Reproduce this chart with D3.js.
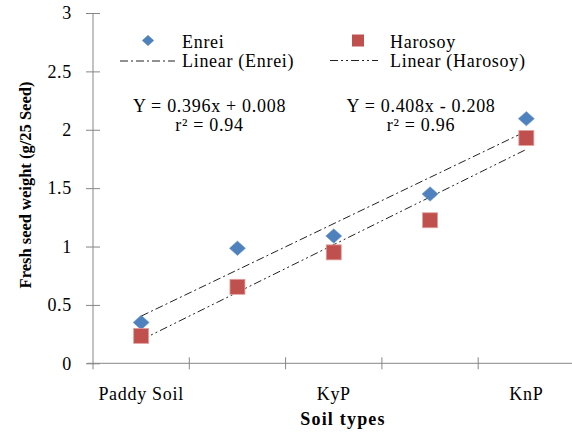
<!DOCTYPE html>
<html>
<head>
<meta charset="utf-8">
<script src="https://cdn.jsdelivr.net/npm/d3@7"></script>
<style>
  html, body { margin: 0; padding: 0; background: #fff; }
  svg { display: block; font-family: "Liberation Serif", "Times New Roman", serif; }
  .serif { letter-spacing: 0.7px; }
</style>
</head>
<body>
<script>
// soil type slots, as Excel numbers them (1..5); only every other label is shown
const soilIndex = [1, 2, 3, 4, 5];
const soilLabels = ["Paddy Soil", "", "KyP", "", "KnP"];

const enrei = [0.35, 0.985, 1.09, 1.45, 2.095];
const harosoy = [0.235, 0.655, 0.95, 1.225, 1.93];

// linear trend lines, as given on the chart
const trendSlope = [0.396, 0.408];
const trendIntercept = [0.008, -0.208];
const trendText = ["Y = 0.396x + 0.008", "Y = 0.408x - 0.208"];
const r2Text = ["r\u00b2 = 0.94", "r\u00b2 = 0.96"];

const yTicks = [0, 0.5, 1, 1.5, 2, 2.5, 3];

const width = 572, height = 433;
const margin = { left: 93, top: 13, bottom: 70 };
const axisColor = "#868686";
const blue = "#4F81BD", red = "#C0504D";

const svg = d3.select("body").append("svg")
  .attr("width", width)
  .attr("height", height);

const x = d3.scaleBand()
  .domain(soilIndex)
  .range([margin.left, 574.5]);

const y = d3.scaleLinear()
  .domain([0, 3])
  .range([363.3, margin.top]);

const cx = (i) => x(soilIndex[i]) + x.bandwidth() / 2;

// y axis
const yAxis = svg.append("g")
  .attr("transform", "translate(" + margin.left + ",0)")
  .call(d3.axisLeft(y).tickValues(yTicks).tickSize(7).tickPadding(14)
    .tickFormat((d) => d3.format("")(d)));
yAxis.select(".domain").remove();
yAxis.selectAll(".tick line").attr("x1", -7).attr("x2", 7).attr("stroke", axisColor);
yAxis.selectAll(".tick text")
  .attr("class", "serif")
  .attr("font-size", 18)
  .attr("fill", "#000")
  .attr("font-family", "Liberation Serif");
yAxis.append("line")
  .attr("x1", 0).attr("x2", 0)
  .attr("y1", y(3)).attr("y2", y(0) + 6)
  .attr("stroke", axisColor);

// x axis
const xAxis = svg.append("g")
  .attr("transform", "translate(0," + y(0) + ")")
  .call(d3.axisBottom(x).tickSize(0).tickPadding(24)
    .tickFormat((d, i) => soilLabels[i]));
xAxis.select(".domain").remove();
xAxis.selectAll(".tick text")
  .attr("class", "serif")
  .attr("font-size", 18)
  .attr("fill", "#000")
  .attr("font-family", "Liberation Serif");
xAxis.append("line")
  .attr("x1", margin.left - 6).attr("x2", width)
  .attr("y1", 0).attr("y2", 0)
  .attr("stroke", axisColor);
xAxis.selectAll(".bound")
  .data(soilIndex.slice(1))
  .enter().append("line")
  .attr("class", "bound")
  .attr("x1", (d) => x(d)).attr("x2", (d) => x(d))
  .attr("y1", -6).attr("y2", 6)
  .attr("stroke", axisColor);

// trend lines
const dashes = ["8,3,2,3", "8,3,2,3,2,3"];
trendSlope.forEach((m, k) => {
  const first = soilIndex[0], last = soilIndex[soilIndex.length - 1];
  svg.append("line")
    .attr("x1", cx(0)).attr("y1", y(m * first + trendIntercept[k]))
    .attr("x2", cx(soilIndex.length - 1)).attr("y2", y(m * last + trendIntercept[k]))
    .attr("stroke", "#222")
    .attr("stroke-width", 1)
    .attr("stroke-dasharray", dashes[k]);
});

// markers
const diamond = (s) => "M0," + (-s * 0.45) + "L" + (s / 2) + ",0L0," + (s * 0.45) + "L" + (-s / 2) + ",0Z";

svg.selectAll(".enrei")
  .data(enrei)
  .enter().append("path")
  .attr("class", "enrei")
  .attr("d", diamond(16))
  .attr("transform", (d, i) => "translate(" + cx(i) + "," + y(d) + ")")
  .attr("fill", blue)
  .attr("stroke", "#6E9AD0")
  .attr("stroke-width", 0.6);

svg.selectAll(".harosoy")
  .data(harosoy)
  .enter().append("rect")
  .attr("class", "harosoy")
  .attr("x", (d, i) => cx(i) - 7.5)
  .attr("y", (d) => y(d) - 7.5)
  .attr("width", 15).attr("height", 15)
  .attr("fill", red)
  .attr("stroke", "#E2A09E")
  .attr("stroke-width", 0.8);

// legend
const legend = svg.append("g");
legend.append("path")
  .attr("d", diamond(12))
  .attr("transform", "translate(148,40.5)")
  .attr("fill", blue);
legend.append("rect")
  .attr("x", 352).attr("y", 34.5).attr("width", 12).attr("height", 12)
  .attr("fill", red);
legend.append("line")
  .attr("x1", 120).attr("x2", 175).attr("y1", 61).attr("y2", 61)
  .attr("stroke", "#222").attr("stroke-dasharray", dashes[0]);
legend.append("line")
  .attr("x1", 330).attr("x2", 378).attr("y1", 60.5).attr("y2", 60.5)
  .attr("stroke", "#222").attr("stroke-dasharray", dashes[1]);

const legendText = [
  { t: "Enrei", x: 182, y: 47.5 },
  { t: "Linear (Enrei)", x: 182, y: 67 },
  { t: "Harosoy", x: 390, y: 47.5 },
  { t: "Linear (Harosoy)", x: 390, y: 67 }
];
legend.selectAll("text")
  .data(legendText)
  .enter().append("text")
  .attr("class", "serif")
  .attr("x", (d) => d.x).attr("y", (d) => d.y)
  .attr("font-size", 18)
  .text((d) => d.t);

// equations
const eqX = [209.5, 421];
trendText.forEach((t, k) => {
  svg.append("text")
    .attr("class", "serif")
    .attr("x", eqX[k]).attr("y", 111.5)
    .attr("text-anchor", "middle")
    .attr("font-size", 18)
    .text(t);
  svg.append("text")
    .attr("class", "serif")
    .attr("x", eqX[k]).attr("y", 130.5)
    .attr("text-anchor", "middle")
    .attr("font-size", 18)
    .text(r2Text[k]);
});

// axis titles
svg.append("text")
  .attr("transform", "translate(31,185) rotate(-90)")
  .attr("text-anchor", "middle")
  .attr("font-size", 16.5)
  .attr("font-weight", "bold")
  .text("Fresh seed weight (g/25 Seed)");

svg.append("text")
  .attr("x", 343).attr("y", 425)
  .attr("text-anchor", "middle")
  .attr("font-size", 18)
  .attr("font-weight", "bold")
  .attr("letter-spacing", 1.2)
  .text("Soil types");
</script>
</body>
</html>
